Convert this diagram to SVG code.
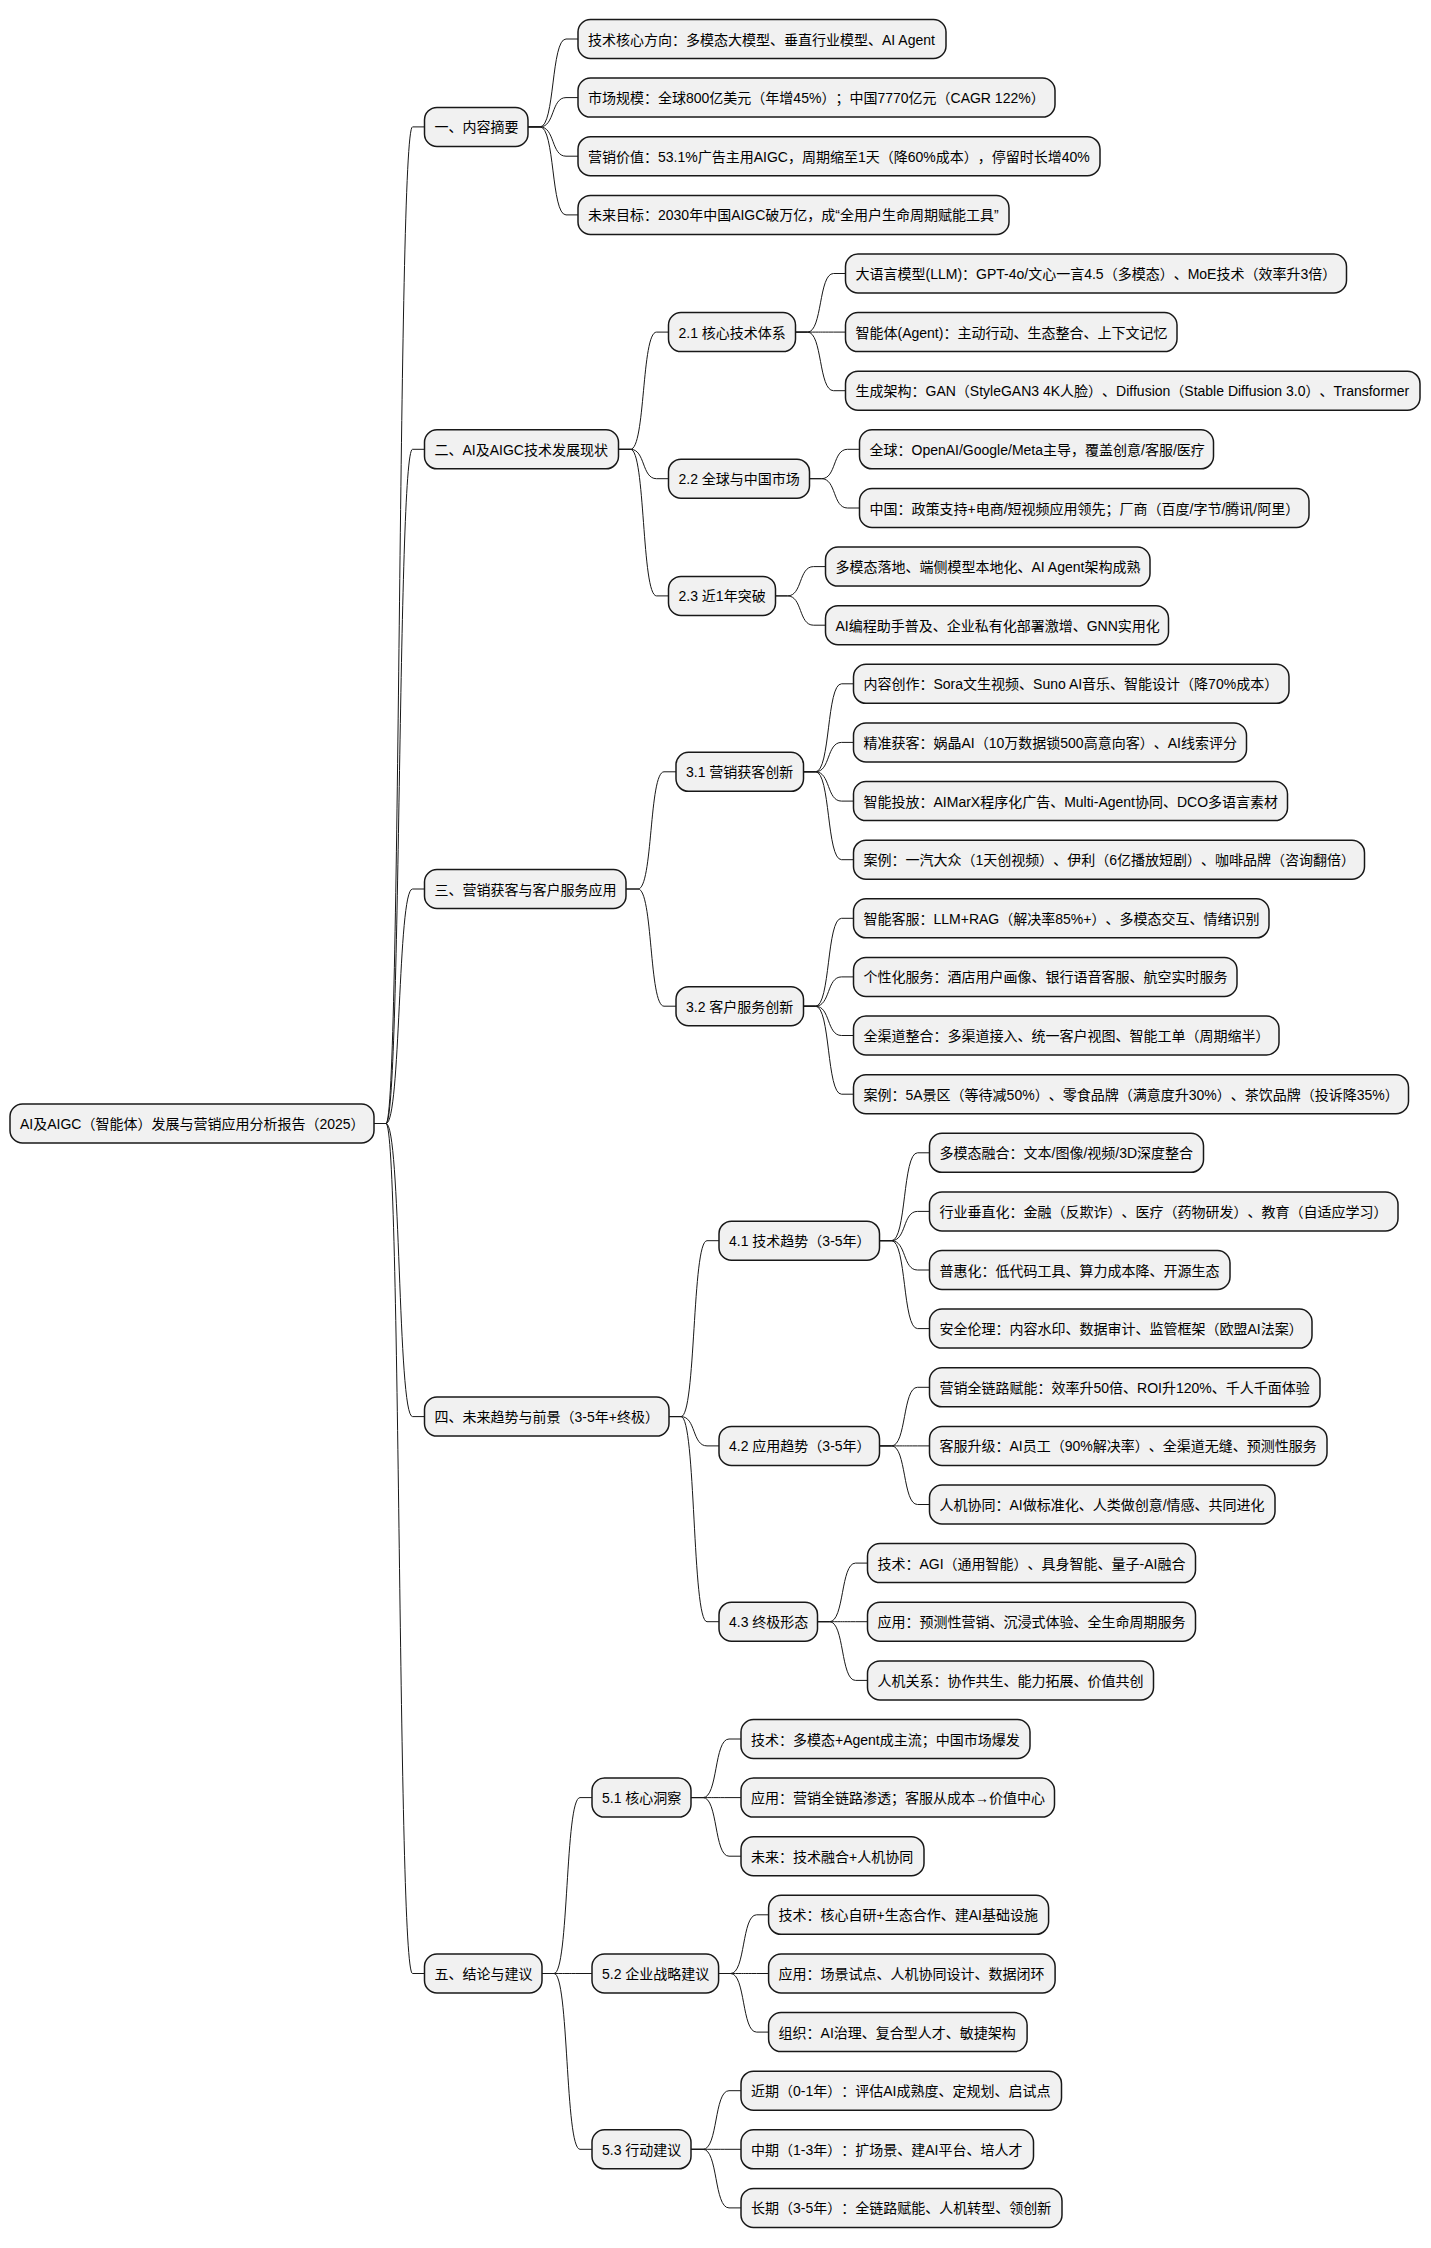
<svg xmlns="http://www.w3.org/2000/svg" width="1431" height="2248" viewBox="0 0 1431 2248">
<style>
.box{fill:#F1F1F1;stroke:#181818;stroke-width:1.5}
.t{font-family:"Liberation Sans","Noto Sans CJK SC",sans-serif;font-size:14px;fill:#000000;text-spacing-trim:space-all;font-feature-settings:"halt" 0}
.c path{fill:none;stroke:#181818;stroke-width:1}
</style>
<rect width="1431" height="2248" fill="#FFFFFF"/>
<g class="c" id="connectors">
<path d="M374 1123.5 H386 C401 1123.5 397.5 126.9 412.5 126.9 H424.5"/>
<path d="M374 1123.5 H386 C401 1123.5 397.5 449.3 412.5 449.3 H424.5"/>
<path d="M374 1123.5 H386 C401 1123.5 397.5 889 412.5 889 H424.5"/>
<path d="M374 1123.5 H386 C401 1123.5 397.5 1416.6 412.5 1416.6 H424.5"/>
<path d="M374 1123.5 H386 C401 1123.5 397.5 1973.5 412.5 1973.5 H424.5"/>
<path d="M528 126.9 H540 C555 126.9 551 39 566 39 H578"/>
<path d="M528 126.9 H540 C555 126.9 551 97.6 566 97.6 H578"/>
<path d="M528 126.9 H540 C555 126.9 551 156.2 566 156.2 H578"/>
<path d="M528 126.9 H540 C555 126.9 551 214.9 566 214.9 H578"/>
<path d="M618.5 449.3 H630.5 C645.5 449.3 641.5 332.1 656.5 332.1 H668.5"/>
<path d="M618.5 449.3 H630.5 C645.5 449.3 641.5 478.7 656.5 478.7 H668.5"/>
<path d="M618.5 449.3 H630.5 C645.5 449.3 641.5 595.9 656.5 595.9 H668.5"/>
<path d="M795.5 332.1 H807.5 C822.5 332.1 818.5 273.5 833.5 273.5 H845.5"/>
<path d="M795.5 332.1 H807.5 C822.5 332.1 818.5 332.1 833.5 332.1 H845.5"/>
<path d="M795.5 332.1 H807.5 C822.5 332.1 818.5 390.7 833.5 390.7 H845.5"/>
<path d="M809.5 478.7 H821.5 C836.5 478.7 832.5 449.3 847.5 449.3 H859.5"/>
<path d="M809.5 478.7 H821.5 C836.5 478.7 832.5 508 847.5 508 H859.5"/>
<path d="M775.5 595.9 H787.5 C802.5 595.9 798.5 566.6 813.5 566.6 H825.5"/>
<path d="M775.5 595.9 H787.5 C802.5 595.9 798.5 625.2 813.5 625.2 H825.5"/>
<path d="M626 889 H638 C653 889 649 771.8 664 771.8 H676"/>
<path d="M626 889 H638 C653 889 649 1006.2 664 1006.2 H676"/>
<path d="M803.5 771.8 H815.5 C830.5 771.8 826.5 683.8 841.5 683.8 H853.5"/>
<path d="M803.5 771.8 H815.5 C830.5 771.8 826.5 742.4 841.5 742.4 H853.5"/>
<path d="M803.5 771.8 H815.5 C830.5 771.8 826.5 801.1 841.5 801.1 H853.5"/>
<path d="M803.5 771.8 H815.5 C830.5 771.8 826.5 859.7 841.5 859.7 H853.5"/>
<path d="M803.5 1006.2 H815.5 C830.5 1006.2 826.5 918.3 841.5 918.3 H853.5"/>
<path d="M803.5 1006.2 H815.5 C830.5 1006.2 826.5 976.9 841.5 976.9 H853.5"/>
<path d="M803.5 1006.2 H815.5 C830.5 1006.2 826.5 1035.5 841.5 1035.5 H853.5"/>
<path d="M803.5 1006.2 H815.5 C830.5 1006.2 826.5 1094.2 841.5 1094.2 H853.5"/>
<path d="M669 1416.6 H681 C696 1416.6 692 1240.7 707 1240.7 H719"/>
<path d="M669 1416.6 H681 C696 1416.6 692 1445.9 707 1445.9 H719"/>
<path d="M669 1416.6 H681 C696 1416.6 692 1621.7 707 1621.7 H719"/>
<path d="M879.5 1240.7 H891.5 C906.5 1240.7 902.5 1152.8 917.5 1152.8 H929.5"/>
<path d="M879.5 1240.7 H891.5 C906.5 1240.7 902.5 1211.4 917.5 1211.4 H929.5"/>
<path d="M879.5 1240.7 H891.5 C906.5 1240.7 902.5 1270 917.5 1270 H929.5"/>
<path d="M879.5 1240.7 H891.5 C906.5 1240.7 902.5 1328.6 917.5 1328.6 H929.5"/>
<path d="M879.5 1445.9 H891.5 C906.5 1445.9 902.5 1387.3 917.5 1387.3 H929.5"/>
<path d="M879.5 1445.9 H891.5 C906.5 1445.9 902.5 1445.9 917.5 1445.9 H929.5"/>
<path d="M879.5 1445.9 H891.5 C906.5 1445.9 902.5 1504.5 917.5 1504.5 H929.5"/>
<path d="M817.5 1621.7 H829.5 C844.5 1621.7 840.5 1563.1 855.5 1563.1 H867.5"/>
<path d="M817.5 1621.7 H829.5 C844.5 1621.7 840.5 1621.7 855.5 1621.7 H867.5"/>
<path d="M817.5 1621.7 H829.5 C844.5 1621.7 840.5 1680.4 855.5 1680.4 H867.5"/>
<path d="M542 1973.5 H554 C569 1973.5 565 1797.6 580 1797.6 H592"/>
<path d="M542 1973.5 H554 C569 1973.5 565 1973.5 580 1973.5 H592"/>
<path d="M542 1973.5 H554 C569 1973.5 565 2149.3 580 2149.3 H592"/>
<path d="M691 1797.6 H703 C718 1797.6 714 1739 729 1739 H741"/>
<path d="M691 1797.6 H703 C718 1797.6 714 1797.6 729 1797.6 H741"/>
<path d="M691 1797.6 H703 C718 1797.6 714 1856.2 729 1856.2 H741"/>
<path d="M718.6 1973.5 H730.6 C745.6 1973.5 741.6 1914.8 756.6 1914.8 H768.6"/>
<path d="M718.6 1973.5 H730.6 C745.6 1973.5 741.6 1973.5 756.6 1973.5 H768.6"/>
<path d="M718.6 1973.5 H730.6 C745.6 1973.5 741.6 2032.1 756.6 2032.1 H768.6"/>
<path d="M691 2149.3 H703 C718 2149.3 714 2090.7 729 2090.7 H741"/>
<path d="M691 2149.3 H703 C718 2149.3 714 2149.3 729 2149.3 H741"/>
<path d="M691 2149.3 H703 C718 2149.3 714 2207.9 729 2207.9 H741"/>
</g>
<g id="root"><rect class="box" x="10" y="1104" width="364" height="39" rx="12.5"/><text class="t" x="20" y="1129">AI及AIGC（智能体）发展与营销应用分析报告（2025）</text></g>
<g id="n1"><rect class="box" x="424.5" y="107.4" width="103.5" height="39" rx="12.5"/><text class="t" x="434.5" y="132.4">一、内容摘要</text></g>
<g id="n2"><rect class="box" x="424.5" y="429.8" width="194" height="39" rx="12.5"/><text class="t" x="434.5" y="454.8">二、AI及AIGC技术发展现状</text></g>
<g id="n3"><rect class="box" x="424.5" y="869.5" width="201.5" height="39" rx="12.5"/><text class="t" x="434.5" y="894.5">三、营销获客与客户服务应用</text></g>
<g id="n4"><rect class="box" x="424.5" y="1397.1" width="244.5" height="39" rx="12.5"/><text class="t" x="434.5" y="1422.1">四、未来趋势与前景（3-5年+终极）</text></g>
<g id="n5"><rect class="box" x="424.5" y="1954" width="117.5" height="39" rx="12.5"/><text class="t" x="434.5" y="1979">五、结论与建议</text></g>
<g id="n1-1"><rect class="box" x="578" y="19.5" width="368" height="39" rx="12.5"/><text class="t" x="588" y="44.5">技术核心方向：多模态大模型、垂直行业模型、AI Agent</text></g>
<g id="n1-2"><rect class="box" x="578" y="78.1" width="477" height="39" rx="12.5"/><text class="t" x="588" y="103.1">市场规模：全球800亿美元（年增45%）；中国7770亿元（CAGR 122%）</text></g>
<g id="n1-3"><rect class="box" x="578" y="136.7" width="522" height="39" rx="12.5"/><text class="t" x="588" y="161.7">营销价值：53.1%广告主用AIGC，周期缩至1天（降60%成本），停留时长增40%</text></g>
<g id="n1-4"><rect class="box" x="578" y="195.4" width="431" height="39" rx="12.5"/><text class="t" x="588" y="220.4">未来目标：2030年中国AIGC破万亿，成“全用户生命周期赋能工具”</text></g>
<g id="n2-1"><rect class="box" x="668.5" y="312.6" width="127" height="39" rx="12.5"/><text class="t" x="678.5" y="337.6">2.1 核心技术体系</text></g>
<g id="n2-2"><rect class="box" x="668.5" y="459.2" width="141" height="39" rx="12.5"/><text class="t" x="678.5" y="484.2">2.2 全球与中国市场</text></g>
<g id="n2-3"><rect class="box" x="668.5" y="576.4" width="107" height="39" rx="12.5"/><text class="t" x="678.5" y="601.4">2.3 近1年突破</text></g>
<g id="n2-1-1"><rect class="box" x="845.5" y="254" width="501" height="39" rx="12.5"/><text class="t" x="855.5" y="279">大语言模型(LLM)：GPT-4o/文心一言4.5（多模态）、MoE技术（效率升3倍）</text></g>
<g id="n2-1-2"><rect class="box" x="845.5" y="312.6" width="331.5" height="39" rx="12.5"/><text class="t" x="855.5" y="337.6">智能体(Agent)：主动行动、生态整合、上下文记忆</text></g>
<g id="n2-1-3"><rect class="box" x="845.5" y="371.2" width="574.5" height="39" rx="12.5"/><text class="t" x="855.5" y="396.2">生成架构：GAN（StyleGAN3 4K人脸）、Diffusion（Stable Diffusion 3.0）、Transformer</text></g>
<g id="n2-2-1"><rect class="box" x="859.5" y="429.8" width="354" height="39" rx="12.5"/><text class="t" x="869.5" y="454.8">全球：OpenAI/Google/Meta主导，覆盖创意/客服/医疗</text></g>
<g id="n2-2-2"><rect class="box" x="859.5" y="488.5" width="449.5" height="39" rx="12.5"/><text class="t" x="869.5" y="513.5">中国：政策支持+电商/短视频应用领先；厂商（百度/字节/腾讯/阿里）</text></g>
<g id="n2-3-1"><rect class="box" x="825.5" y="547.1" width="324.5" height="39" rx="12.5"/><text class="t" x="835.5" y="572.1">多模态落地、端侧模型本地化、AI Agent架构成熟</text></g>
<g id="n2-3-2"><rect class="box" x="825.5" y="605.7" width="343" height="39" rx="12.5"/><text class="t" x="835.5" y="630.7">AI编程助手普及、企业私有化部署激增、GNN实用化</text></g>
<g id="n3-1"><rect class="box" x="676" y="752.3" width="127.5" height="39" rx="12.5"/><text class="t" x="686" y="777.3">3.1 营销获客创新</text></g>
<g id="n3-2"><rect class="box" x="676" y="986.7" width="127.5" height="39" rx="12.5"/><text class="t" x="686" y="1011.7">3.2 客户服务创新</text></g>
<g id="n3-1-1"><rect class="box" x="853.5" y="664.3" width="435.5" height="39" rx="12.5"/><text class="t" x="863.5" y="689.3">内容创作：Sora文生视频、Suno AI音乐、智能设计（降70%成本）</text></g>
<g id="n3-1-2"><rect class="box" x="853.5" y="722.9" width="393" height="39" rx="12.5"/><text class="t" x="863.5" y="747.9">精准获客：娲晶AI（10万数据锁500高意向客）、AI线索评分</text></g>
<g id="n3-1-3"><rect class="box" x="853.5" y="781.6" width="434" height="39" rx="12.5"/><text class="t" x="863.5" y="806.6">智能投放：AIMarX程序化广告、Multi-Agent协同、DCO多语言素材</text></g>
<g id="n3-1-4"><rect class="box" x="853.5" y="840.2" width="511" height="39" rx="12.5"/><text class="t" x="863.5" y="865.2">案例：一汽大众（1天创视频）、伊利（6亿播放短剧）、咖啡品牌（咨询翻倍）</text></g>
<g id="n3-2-1"><rect class="box" x="853.5" y="898.8" width="415.5" height="39" rx="12.5"/><text class="t" x="863.5" y="923.8">智能客服：LLM+RAG（解决率85%+）、多模态交互、情绪识别</text></g>
<g id="n3-2-2"><rect class="box" x="853.5" y="957.4" width="383.5" height="39" rx="12.5"/><text class="t" x="863.5" y="982.4">个性化服务：酒店用户画像、银行语音客服、航空实时服务</text></g>
<g id="n3-2-3"><rect class="box" x="853.5" y="1016" width="425.5" height="39" rx="12.5"/><text class="t" x="863.5" y="1041">全渠道整合：多渠道接入、统一客户视图、智能工单（周期缩半）</text></g>
<g id="n3-2-4"><rect class="box" x="853.5" y="1074.7" width="555" height="39" rx="12.5"/><text class="t" x="863.5" y="1099.7">案例：5A景区（等待减50%）、零食品牌（满意度升30%）、茶饮品牌（投诉降35%）</text></g>
<g id="n4-1"><rect class="box" x="719" y="1221.2" width="160.5" height="39" rx="12.5"/><text class="t" x="729" y="1246.2">4.1 技术趋势（3-5年）</text></g>
<g id="n4-2"><rect class="box" x="719" y="1426.4" width="160.5" height="39" rx="12.5"/><text class="t" x="729" y="1451.4">4.2 应用趋势（3-5年）</text></g>
<g id="n4-3"><rect class="box" x="719" y="1602.2" width="98.5" height="39" rx="12.5"/><text class="t" x="729" y="1627.2">4.3 终极形态</text></g>
<g id="n4-1-1"><rect class="box" x="929.5" y="1133.3" width="274" height="39" rx="12.5"/><text class="t" x="939.5" y="1158.3">多模态融合：文本/图像/视频/3D深度整合</text></g>
<g id="n4-1-2"><rect class="box" x="929.5" y="1191.9" width="468.5" height="39" rx="12.5"/><text class="t" x="939.5" y="1216.9">行业垂直化：金融（反欺诈）、医疗（药物研发）、教育（自适应学习）</text></g>
<g id="n4-1-3"><rect class="box" x="929.5" y="1250.5" width="300.5" height="39" rx="12.5"/><text class="t" x="939.5" y="1275.5">普惠化：低代码工具、算力成本降、开源生态</text></g>
<g id="n4-1-4"><rect class="box" x="929.5" y="1309.1" width="382.5" height="39" rx="12.5"/><text class="t" x="939.5" y="1334.1">安全伦理：内容水印、数据审计、监管框架（欧盟AI法案）</text></g>
<g id="n4-2-1"><rect class="box" x="929.5" y="1367.8" width="390.5" height="39" rx="12.5"/><text class="t" x="939.5" y="1392.8">营销全链路赋能：效率升50倍、ROI升120%、千人千面体验</text></g>
<g id="n4-2-2"><rect class="box" x="929.5" y="1426.4" width="397.5" height="39" rx="12.5"/><text class="t" x="939.5" y="1451.4">客服升级：AI员工（90%解决率）、全渠道无缝、预测性服务</text></g>
<g id="n4-2-3"><rect class="box" x="929.5" y="1485" width="345.5" height="39" rx="12.5"/><text class="t" x="939.5" y="1510">人机协同：AI做标准化、人类做创意/情感、共同进化</text></g>
<g id="n4-3-1"><rect class="box" x="867.5" y="1543.6" width="328" height="39" rx="12.5"/><text class="t" x="877.5" y="1568.6">技术：AGI（通用智能）、具身智能、量子-AI融合</text></g>
<g id="n4-3-2"><rect class="box" x="867.5" y="1602.2" width="328" height="39" rx="12.5"/><text class="t" x="877.5" y="1627.2">应用：预测性营销、沉浸式体验、全生命周期服务</text></g>
<g id="n4-3-3"><rect class="box" x="867.5" y="1660.9" width="286" height="39" rx="12.5"/><text class="t" x="877.5" y="1685.9">人机关系：协作共生、能力拓展、价值共创</text></g>
<g id="n5-1"><rect class="box" x="592" y="1778.1" width="99" height="39" rx="12.5"/><text class="t" x="602" y="1803.1">5.1 核心洞察</text></g>
<g id="n5-2"><rect class="box" x="592" y="1954" width="126.6" height="39" rx="12.5"/><text class="t" x="602" y="1979">5.2 企业战略建议</text></g>
<g id="n5-3"><rect class="box" x="592" y="2129.8" width="99" height="39" rx="12.5"/><text class="t" x="602" y="2154.8">5.3 行动建议</text></g>
<g id="n5-1-1"><rect class="box" x="741" y="1719.5" width="289" height="39" rx="12.5"/><text class="t" x="751" y="1744.5">技术：多模态+Agent成主流；中国市场爆发</text></g>
<g id="n5-1-2"><rect class="box" x="741" y="1778.1" width="313.5" height="39" rx="12.5"/><text class="t" x="751" y="1803.1">应用：营销全链路渗透；客服从成本→价值中心</text></g>
<g id="n5-1-3"><rect class="box" x="741" y="1836.7" width="183" height="39" rx="12.5"/><text class="t" x="751" y="1861.7">未来：技术融合+人机协同</text></g>
<g id="n5-2-1"><rect class="box" x="768.6" y="1895.3" width="280" height="39" rx="12.5"/><text class="t" x="778.6" y="1920.3">技术：核心自研+生态合作、建AI基础设施</text></g>
<g id="n5-2-2"><rect class="box" x="768.6" y="1954" width="286.5" height="39" rx="12.5"/><text class="t" x="778.6" y="1979">应用：场景试点、人机协同设计、数据闭环</text></g>
<g id="n5-2-3"><rect class="box" x="768.6" y="2012.6" width="258.5" height="39" rx="12.5"/><text class="t" x="778.6" y="2037.6">组织：AI治理、复合型人才、敏捷架构</text></g>
<g id="n5-3-1"><rect class="box" x="741" y="2071.2" width="320.5" height="39" rx="12.5"/><text class="t" x="751" y="2096.2">近期（0-1年）：评估AI成熟度、定规划、启试点</text></g>
<g id="n5-3-2"><rect class="box" x="741" y="2129.8" width="292.5" height="39" rx="12.5"/><text class="t" x="751" y="2154.8">中期（1-3年）：扩场景、建AI平台、培人才</text></g>
<g id="n5-3-3"><rect class="box" x="741" y="2188.4" width="321" height="39" rx="12.5"/><text class="t" x="751" y="2213.4">长期（3-5年）：全链路赋能、人机转型、领创新</text></g>
</svg>
